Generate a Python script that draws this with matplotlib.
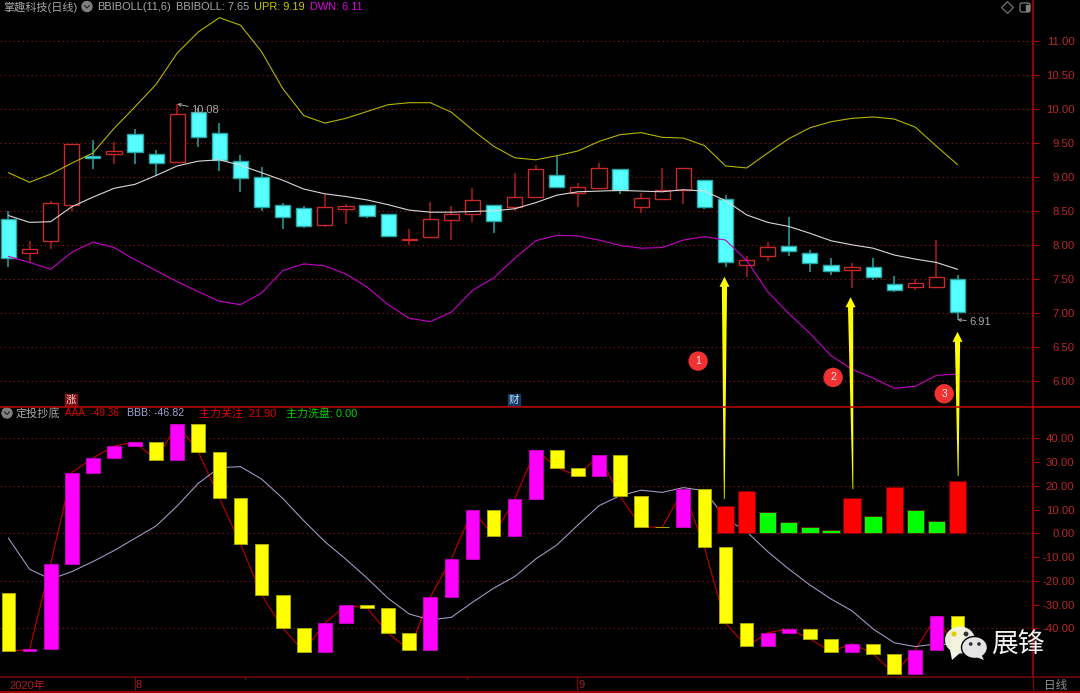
import matplotlib
matplotlib.use("Agg")
import matplotlib.pyplot as plt
from matplotlib.patches import Circle, Ellipse, Polygon, FancyBboxPatch, Rectangle

plt.rcParams['font.family'] = ['Liberation Sans', 'Noto Sans CJK SC', 'DejaVu Sans']

# upper panel, one entry per trading day
open_px = [8.39, 7.89, 8.07, 8.59, 9.31, 9.35, 9.64, 9.34, 9.23, 9.96, 9.65, 9.24, 9.00, 8.59, 8.55, 8.30,
           8.53, 8.59, 8.46, 8.08, 8.12, 8.38, 8.46, 8.59, 8.57, 8.71, 9.03, 8.77, 8.85, 9.12, 8.57, 8.69,
           8.82, 8.97, 8.69, 7.72, 7.84, 7.99, 7.89, 7.71, 7.64, 7.69, 7.44, 7.39, 7.39, 7.50]
close_px = [7.81, 7.95, 8.62, 9.49, 9.29, 9.39, 9.37, 9.22, 9.94, 9.60, 9.26, 8.99, 8.56, 8.42, 8.28, 8.56,
            8.58, 8.44, 8.14, 8.10, 8.39, 8.47, 8.67, 8.36, 8.72, 9.12, 8.86, 8.86, 9.14, 8.81, 8.70, 8.82,
            9.14, 8.56, 7.76, 7.79, 7.98, 7.92, 7.74, 7.63, 7.69, 7.54, 7.34, 7.45, 7.54, 7.02]
high_px = [8.50, 8.07, 8.65, 9.49, 9.55, 9.52, 9.71, 9.40, 10.08, 10.02, 9.80, 9.33, 9.15, 8.62, 8.58, 8.76,
           8.61, 8.60, 8.47, 8.24, 8.64, 8.58, 8.84, 8.60, 9.07, 9.19, 9.32, 8.92, 9.22, 9.12, 8.77, 9.14,
           9.14, 8.97, 8.74, 7.85, 8.05, 8.42, 7.93, 7.81, 7.74, 7.82, 7.55, 7.51, 8.08, 7.56]
low_px = [7.69, 7.76, 7.95, 8.51, 9.13, 9.20, 9.20, 9.04, 9.23, 9.45, 9.09, 8.78, 8.51, 8.24, 8.25, 8.27,
          8.31, 8.40, 8.13, 8.00, 8.12, 8.08, 8.35, 8.19, 8.50, 8.71, 8.86, 8.56, 8.85, 8.75, 8.48, 8.69,
          8.61, 8.54, 7.69, 7.54, 7.77, 7.85, 7.61, 7.57, 7.38, 7.49, 7.31, 7.34, 7.39, 6.91]
upr = [9.07, 8.93, 9.05, 9.21, 9.36, 9.72, 10.04, 10.37, 10.83, 11.14, 11.35, 11.24, 10.85, 10.31, 9.91, 9.80,
       9.87, 9.97, 10.07, 10.10, 10.10, 9.96, 9.70, 9.46, 9.29, 9.26, 9.32, 9.39, 9.53, 9.63, 9.66, 9.59,
       9.58, 9.47, 9.17, 9.14, 9.36, 9.57, 9.73, 9.82, 9.87, 9.89, 9.86, 9.74, 9.46, 9.19]
mid = [8.44, 8.34, 8.35, 8.57, 8.71, 8.84, 8.90, 9.03, 9.17, 9.24, 9.26, 9.18, 9.07, 8.96, 8.83, 8.76,
       8.72, 8.67, 8.60, 8.52, 8.49, 8.49, 8.50, 8.51, 8.54, 8.63, 8.74, 8.79, 8.80, 8.81, 8.80, 8.79,
       8.82, 8.80, 8.66, 8.45, 8.34, 8.28, 8.18, 8.07, 8.01, 7.96, 7.86, 7.80, 7.75, 7.65]
dwn = [7.84, 7.75, 7.65, 7.90, 8.05, 7.97, 7.79, 7.63, 7.47, 7.32, 7.18, 7.13, 7.30, 7.63, 7.73, 7.70,
       7.58, 7.39, 7.13, 6.93, 6.88, 7.02, 7.34, 7.52, 7.81, 8.07, 8.15, 8.14, 8.08, 8.00, 7.96, 7.97,
       8.08, 8.13, 8.08, 7.78, 7.32, 7.00, 6.71, 6.38, 6.18, 6.05, 5.90, 5.93, 6.09, 6.11]

# lower panel
aaa_start = -25.0
aaa = [-49.6, -48.8, -12.9, 25.5, 31.6, 36.7, 38.2, 30.9, 45.9, 34.3, 14.8, -4.4, -25.8, -39.8, -49.7, -37.8,
       -30.3, -31.3, -42.0, -48.9, -26.8, -10.7, 9.7, -1.0, 14.4, 35.0, 27.6, 24.1, 32.8, 15.5, 2.8, 2.5,
       18.5, -5.9, -37.8, -47.5, -41.8, -40.2, -44.4, -49.7, -46.4, -50.6, -59.0, -49.0, -34.9, -49.36]
bbb = [-2.1, -15.1, -19.3, -16.1, -11.9, -7.3, -2.1, 3.1, 11.5, 21.0, 27.6, 28.0, 22.8, 14.7, 5.3, -3.5,
       -10.9, -18.8, -27.3, -33.9, -36.4, -35.3, -29.0, -23.1, -18.2, -10.8, -4.9, 3.5, 11.6, 15.8, 18.1, 17.2,
       19.2, 17.9, 6.3, 0.7, -7.7, -15.0, -21.7, -27.6, -32.6, -40.2, -46.0, -47.6, -46.5, -46.82]
signal_idx = list(range(34, 46))
signal_val = [11.3, 17.8, 9.0, 4.8, 2.5, 1.4, 14.8, 7.4, 19.3, 9.8, 5.2, 21.9]
signal_red = [True, True, False, False, False, False, True, False, True, False, False, True]

price_ticks = [11.0, 10.5, 10.0, 9.5, 9.0, 8.5, 8.0, 7.5, 7.0, 6.5, 6.0]
low_ticks = [40, 30, 20, 10, 0, -10, -20, -30, -40]
low_grid = [40, 20, 0, -20, -40]

# hand drawn arrows: day index and value at tip (upper panel), day index and value at tail (lower panel)
arrow_tip_idx = [33.95, 39.93, 45.0]
arrow_tip_val = [7.54, 7.24, 6.73]
arrow_tail_idx = [33.94, 40.04, 45.03]
arrow_tail_val = [14.4, 18.6, 24.1]
badge_labels = ['1', '2', '3']
badge_idx = [32.7, 39.1, 44.37]
badge_val = [6.30, 6.06, 5.82]

BG = '#000000'
AXIS_RED = '#b00808'
DIM_RED = '#7a0a0a'
GRID_RED = '#a01818'
TICK_RED = '#b82828'
GREY = '#a8a8a8'

W, H = 1080, 693
fig = plt.figure(figsize=(W / 100, H / 100), dpi=100, facecolor=BG)

def make_axes(x0, y0, x1, y1, zorder=1):
    # box given in pixels from the top left corner
    a = fig.add_axes([x0 / W, 1 - y1 / H, (x1 - x0) / W, (y1 - y0) / H], zorder=zorder)
    a.set_facecolor(BG)
    for s in a.spines.values():
        s.set_visible(False)
    return a

ax = make_axes(0, 0, 1033, 407)
ax2 = make_axes(0, 407, 1033, 677)
over = make_axes(0, 0, W, H, zorder=5)
over.patch.set_alpha(0)
over.set_xlim(0, W)
over.set_ylim(H, 0)
over.set_xticks([])
over.set_yticks([])

for a in (ax, ax2):
    a.set_xlim(-0.403, 48.58)
    a.set_xticks([])
    a.yaxis.tick_right()
    a.spines['right'].set_visible(True)
    a.spines['right'].set_color(AXIS_RED)
    a.spines['right'].set_linewidth(1.1)
ax.set_ylim(5.625, 11.61)
ax2.set_ylim(-60.38, 53.07)

# upper panel
ax.hlines(price_ticks, -0.403, 48.58, color=GRID_RED, lw=0.8, ls=(0, (1, 3)), zorder=1)
days = list(range(len(close_px)))
for i in days:
    up = close_px[i] >= open_px[i]
    if up:
        wick, edge, face = '#a82020', '#c82828', BG
    else:
        wick, edge, face = '#2aa5a5', '#2aa5a5', '#55ffff'
    ax.vlines(i, low_px[i], high_px[i], color=wick, lw=1.1, zorder=2)
    ax.bar(i, abs(close_px[i] - open_px[i]), bottom=min(open_px[i], close_px[i]), width=0.72,
           facecolor=face, edgecolor=edge, linewidth=1.0, zorder=3)
ax.plot(days, upr, color='#b4b400', lw=0.8, zorder=4)
ax.plot(days, mid, color='#d8d8d8', lw=0.8, zorder=4)
ax.plot(days, dwn, color='#c800c8', lw=0.8, zorder=4)

ax.set_yticks(price_ticks)
ax.set_yticklabels([f"{v:.2f}" for v in price_ticks])

ax.annotate('10.08', xy=(8, 10.08), xytext=(191, 110), textcoords=over.transData, color=GREY, fontsize=8,
            va='center', arrowprops=dict(arrowstyle='->', color=GREY, lw=0.7, shrinkA=0, shrinkB=0,
                                         mutation_scale=5))
ax.annotate('6.91', xy=(45, 6.91), xytext=(969, 322), textcoords=over.transData, color=GREY, fontsize=8,
            va='center', arrowprops=dict(arrowstyle='->', color=GREY, lw=0.7, shrinkA=0, shrinkB=0,
                                         mutation_scale=5))

# lower panel
ax2.hlines(low_grid, -0.403, 48.58, color=GRID_RED, lw=0.8, ls=(0, (1, 3)), zorder=1)
ax2.plot(days, aaa, color='#b80000', lw=0.85, zorder=2)
ax2.plot(days, bbb, color='#9a9ac4', lw=0.8, zorder=2)
prev = aaa_start
for i in days:
    rising = aaa[i] >= prev
    face = '#ff00ff' if rising else '#ffff00'
    edge = '#c000c0' if rising else '#a8a800'
    ax2.bar(i, abs(aaa[i] - prev), bottom=min(aaa[i], prev), width=0.65, facecolor=face, edgecolor=edge,
            linewidth=0.7, zorder=3)
    prev = aaa[i]
for i, v, red in zip(signal_idx, signal_val, signal_red):
    ax2.bar(i, v, width=0.82, color='#ff0000' if red else '#00ff00', edgecolor='#700000', linewidth=0.5, zorder=4)

ax2.set_yticks(low_ticks)
ax2.set_yticklabels([f"{v:.2f}" for v in low_ticks])

for a in (ax, ax2):
    a.tick_params(axis='y', colors=TICK_RED, color=AXIS_RED, length=4.3, width=0.8, pad=25.5, labelsize=8.2)
    for lab in a.get_yticklabels():
        lab.set_ha('right')
        lab.set_color(TICK_RED)

# frame lines under the panels
over.plot([0, W], [407, 407], color='#c00000', lw=1.1)
over.plot([0, W], [677, 677], color=DIM_RED, lw=1.1)
over.plot([0, W], [692, 692], color='#c00000', lw=1.2)
over.plot([1033, 1033], [677, 692], color=DIM_RED, lw=0.9)
over.plot([134.5, 134.5], [677, 692], color=DIM_RED, lw=0.9)
over.plot([577, 577], [677, 692], color=DIM_RED, lw=0.9)
over.plot([245, 245], [677, 679], color=DIM_RED, lw=0.9)
over.plot([466.5, 466.5], [677, 679], color=DIM_RED, lw=0.9)

# date bar
over.text(9, 685.5, '2020年', color='#a82020', fontsize=8, va='center')
over.text(136, 685.5, '8', color='#a82020', fontsize=8, va='center')
over.text(578.5, 685.5, '9', color='#a82020', fontsize=8, va='center')
over.text(1044, 685.5, '日线', color='#909090', fontsize=8.4, va='center')

# header texts
over.add_patch(Circle((87, 6.5), 5, color='#808080'))
over.plot([84.5, 87, 89.5], [5.5, 8, 5.5], color='#202020', lw=0.8)
over.text(3, 7.5, '掌趣科技(日线)', color='#a8a8a8', fontsize=8, va='center')
over.text(97, 7.5, 'BBIBOLL(11,6)', color=GREY, fontsize=7.9, va='center')
over.text(176, 7.5, 'BBIBOLL: 7.65', color=GREY, fontsize=7.9, va='center')
over.text(254, 7.5, 'UPR: 9.19', color='#c8c800', fontsize=7.9, va='center')
over.text(310, 7.5, 'DWN: 6.11', color='#e000e0', fontsize=7.9, va='center')

over.add_patch(Circle((7, 413), 5, color='#808080'))
over.plot([4.5, 7, 9.5], [412, 414.5, 412], color='#202020', lw=0.8)
over.text(16, 413.5, '定投抄底', color='#a8a8a8', fontsize=8, va='center')
over.text(65, 413.5, 'AAA: -49.36', color='#e00000', fontsize=7.2, va='center')
over.text(127, 413.5, 'BBB: -46.82', color='#a0a0d0', fontsize=7.7, va='center')
over.text(199, 413.5, '主力关注: 21.90', color='#e00000', fontsize=7.9, va='center')
over.text(286, 413.5, '主力洗盘: 0.00', color='#00d000', fontsize=7.9, va='center')

# top right window buttons
over.scatter([1007.5], [7.5], marker='D', s=36, facecolor='none', edgecolor='#707070', linewidth=0.9)
over.add_patch(FancyBboxPatch((1020.5, 3.5), 9, 8, boxstyle='round,pad=0.5,rounding_size=2', facecolor='none',
                              edgecolor='#808080', linewidth=0.9))
over.add_patch(Rectangle((1026, 4.5), 2.5, 6, color='#808080'))

# small event boxes
over.add_patch(Rectangle((65, 394), 12, 11.5, color='#7c1010'))
over.text(71, 399.5, '涨', color='#f0d0d0', fontsize=7.5, ha='center', va='center')
over.add_patch(Rectangle((508, 394), 12, 11.5, color='#103c6c'))
over.text(514, 399.5, '财', color='#c8dcf0', fontsize=7.5, ha='center', va='center')

# arrows run across both panels, so work them out in pixels
def to_px(a, x, y):
    px, py = a.transData.transform((x, y))
    return px, H - py

for ti, tv, bi, bv in zip(arrow_tip_idx, arrow_tip_val, arrow_tail_idx, arrow_tail_val):
    tx, ty = to_px(ax, ti, tv)
    bx, by = to_px(ax2, bi, bv)
    pts = [(tx, ty), (tx + 5, ty + 10), (tx + 2.6, ty + 10), (bx + 0.4, by), (bx - 0.4, by), (tx - 2.6, ty + 10),
           (tx - 5, ty + 10)]
    over.add_patch(Polygon(pts, closed=True, color='#ffff00', lw=0))

for lab, i, v in zip(badge_labels, badge_idx, badge_val):
    bx, by = to_px(ax, i, v)
    over.add_patch(Circle((bx, by), 9, color='#f03232'))
    over.text(bx, by, lab, color='#ffe0e0', fontsize=7.5, ha='center', va='center')

# watermark in the corner
over.add_patch(Ellipse((960, 640), 30, 27, color='#f4f4e8', alpha=0.96, lw=0))
over.add_patch(Polygon([(950, 650), (952, 660), (960, 653)], closed=True, color='#f4f4e8', lw=0))
over.add_patch(Ellipse((974.5, 647.5), 26, 22, facecolor='#e4e4e4', edgecolor=BG, linewidth=1))
over.add_patch(Polygon([(976, 657), (984, 660), (981, 654)], closed=True, color='#e4e4e4', lw=0))
over.scatter([954, 966, 970.7, 979], [634, 634, 644, 644], s=[14, 12, 7, 7],
             c=['#e0d000', '#303030', '#303030', '#303030'], linewidth=0)
over.text(991, 645, '展锋', color='#f2f2f2', fontsize=19.3, va='center', family=['Noto Sans CJK SC', 'DejaVu Sans'])

fig.savefig('out.png', dpi=100, facecolor=BG)
